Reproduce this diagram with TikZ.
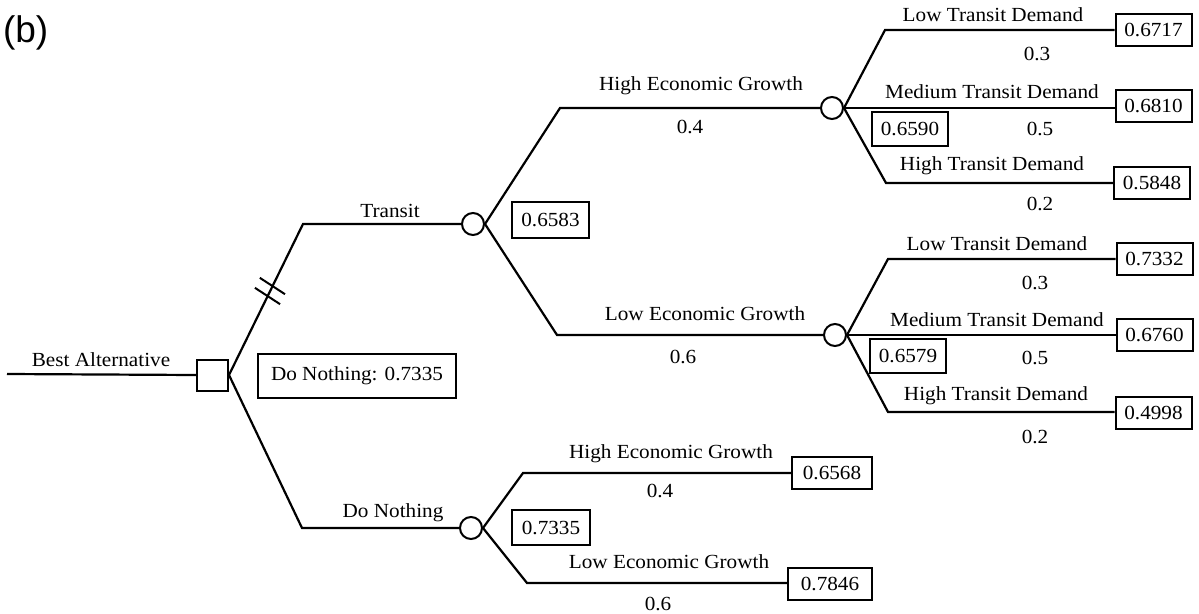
\documentclass[tikz,border=0pt]{standalone}
\usepackage{fontspec}
\setmainfont{Liberation Serif}[FakeStretch=1.06]
\setsansfont{Liberation Sans}
\begin{document}
\begin{tikzpicture}[x=1pt,y=-1pt,line width=2.2pt,
  every node/.style={font=\fontsize{20}{23}\selectfont},
  lbl/.style={inner sep=0pt},
  valbox/.style={draw,line width=2pt,inner sep=0pt,minimum height=32pt,minimum width=76pt},
  chance/.style={draw,circle,line width=2pt,minimum size=22pt,inner sep=0pt},
  decision/.style={draw,rectangle,line width=2pt,minimum size=31pt,inner sep=0pt}]
\useasboundingbox (0,0) rectangle (1199,613);
\node[lbl,anchor=west,font=\sffamily\fontsize{37}{42}\selectfont] (tag) at (2,33) {(b)};
% structure
\coordinate (start) at (7,374);
\node[decision] (sq) at (212.5,375) {};
\coordinate (k1) at (303,224);
\coordinate (k2) at (302,528);
\node[chance] (tc) at (473,224) {};
\node[chance] (dc) at (471,528) {};
\coordinate (k3) at (560,108);
\coordinate (k4) at (557,335);
\node[chance] (hc) at (832,108) {};
\node[chance] (lc) at (835,335) {};
\coordinate (k5) at (523,473);
\coordinate (k6) at (527,583);
\coordinate (k7) at (885,30);
\coordinate (k8) at (886,183);
\coordinate (k9) at (888,259);
\coordinate (k10) at (888,412);
% value boxes
\node[valbox] (b1) at (1153.5,30) {0.6717};
\node[valbox] (b2) at (1153.5,106) {0.6810};
\node[valbox] (b3) at (1152,183) {0.5848};
\node[valbox] (b4) at (1154.5,259) {0.7332};
\node[valbox] (b5) at (1154.5,335) {0.6760};
\node[valbox] (b6) at (1153.5,413) {0.4998};
\node[valbox,minimum height=34pt] (v1) at (910,129) {0.6590};
\node[valbox,minimum height=34pt] (v2) at (908,356) {0.6579};
\node[valbox,minimum height=36pt,minimum width=77pt] (v3) at (550.5,219.5) {0.6583};
\node[valbox,minimum width=198pt,minimum height=44pt] (dn) at (357,375.5) {Do Nothing: 0.7335};
\node[valbox,minimum width=80pt] (b7) at (832,472.5) {0.6568};
\node[valbox,minimum width=78pt,minimum height=35pt] (v4) at (551,527.5) {0.7335};
\node[valbox,minimum width=84pt] (b8) at (830,583.5) {0.7846};
% connectors
\draw (start) -- (sq.west);
\draw (sq.east) -- (k1) -- (tc.west);
\draw (sq.east) -- (k2) -- (dc.west);
\draw (tc.east) -- (k3) -- (hc.west);
\draw (tc.east) -- (k4) -- (lc.west);
\draw (dc.east) -- (k5) -- (k5 -| b7.west);
\draw (dc.east) -- (k6) -- (k6 -| b8.west);
\draw (hc.east) -- (k7) -- (k7 -| b1.west);
\draw (hc.east) -- (hc.east -| b2.west);
\draw (hc.east) -- (k8) -- (k8 -| b3.west);
\draw (lc.east) -- (k9) -- (k9 -| b4.west);
\draw (lc.east) -- (lc.east -| b5.west);
\draw (lc.east) -- (k10) -- (k10 -| b6.west);
% hash marks on Transit branch
\draw[line width=2pt] (259.8,277.8) -- (285,294.2);
\draw[line width=2pt] (254.9,287.8) -- (280.1,304.2);
% labels
\node[lbl] (l1) at (101,360) {Best Alternative};
\node[lbl] (l2) at (390,211) {Transit};
\node[lbl] (l3) at (393,513) {Do Nothing};
\node[lbl] (l4) at (701,86) {High Economic Growth};
\node[lbl] (p4) at (690,127) {0.4};
\node[lbl] (l5) at (705,314) {Low Economic Growth};
\node[lbl] (p5) at (683,357) {0.6};
\node[lbl] (l6) at (671,454) {High Economic Growth};
\node[lbl] (p6) at (660,491) {0.4};
\node[lbl] (l7) at (669,562) {Low Economic Growth};
\node[lbl] (p7) at (658,604) {0.6};
\node[lbl] (l8) at (993,15) {Low Transit Demand};
\node[lbl] (p8) at (1037,54) {0.3};
\node[lbl] (l9) at (992,92) {Medium Transit Demand};
\node[lbl] (p9) at (1040,129) {0.5};
\node[lbl] (l10) at (992,166) {High Transit Demand};
\node[lbl] (p10) at (1040,204) {0.2};
\node[lbl] (l11) at (997,244) {Low Transit Demand};
\node[lbl] (p11) at (1035,283) {0.3};
\node[lbl] (l12) at (997,320) {Medium Transit Demand};
\node[lbl] (p12) at (1035,358) {0.5};
\node[lbl] (l13) at (996,396) {High Transit Demand};
\node[lbl] (p13) at (1035,437) {0.2};
\end{tikzpicture}
\end{document}
